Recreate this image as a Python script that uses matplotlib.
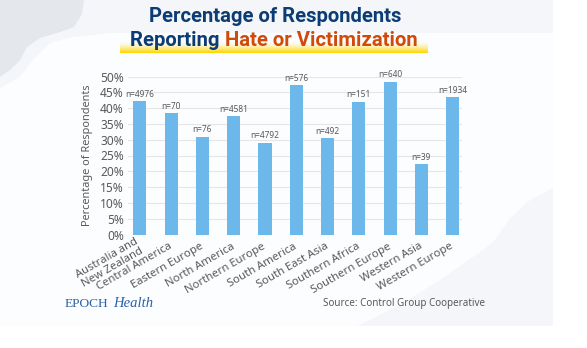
#!/usr/bin/python
# -*- coding: utf-8 -*-
##########################################################################################
# percentage of respondents reporting hate or victimization, by region
##########################################################################################

import numpy as np
import matplotlib as mpl
from matplotlib import pyplot as plt
from matplotlib.patches import Rectangle, Polygon

##########################################################################################
# data

regions = ['Australia and\nNew Zealand', 'Central America', 'Eastern Europe',
           'North America', 'Northern Europe', 'South America', 'South East Asia',
           'Southern Africa', 'Southern Europe', 'Western Asia', 'Western Europe']

percent = [42.1, 38.4, 30.9, 37.4, 29.0, 47.2, 30.4, 42.0, 48.3, 22.3, 43.4]

nLabels = ['n=4976', 'n=70', 'n=76', 'n=4581', 'n=4792', 'n=576', 'n=492',
           'n=151', 'n=640', 'n=39', 'n=1934']

yTicks = [0, 5, 10, 15, 20, 25, 30, 35, 40, 45, 50]

##########################################################################################
# colors

pColors = {'bar': '#6cb8ea',
           'navy': '#0c3c74',
           'orange': '#d04a0c',
           'text': '#595959',
           'grid': '#e6e6e6',
           'card': '#f4f6f9',
           'blob': '#e4e7eb',
           'epoch': '#2a62a8'}

W, H = 587, 348

def px(x, y):
    # pixel coords (top left origin) -> figure fraction
    return x / W, 1.0 - y / H

def addShape(f, pts, color, z):
    f.patches.append(Polygon([px(a, b) for a, b in pts], closed = True,
                             transform = f.transFigure, facecolor = color,
                             edgecolor = 'none', zorder = z))

def Plot(outname = 'out.png'):

    mpl.rc('font', **{'family': ['Noto Sans', 'DejaVu Sans']})

    f = plt.figure(figsize = (W / 100.0, H / 100.0), dpi = 100)
    f.patch.set_facecolor('white')

    ######################################################################################
    # background card and decorative shapes (drawn below the axes)
    x0, y0 = px(0, 326)
    f.patches.append(Rectangle((x0, y0), 553 / W, 326 / H, transform = f.transFigure,
                               facecolor = pColors['card'], edgecolor = 'none',
                               zorder = -3))
    # white inner area
    addShape(f, [(0, 88), (20, 77), (33, 60), (50, 43), (73, 37), (110, 33), (553, 33),
                 (553, 188), (530, 200), (510, 218), (495, 240), (483, 250),
                 (440, 280), (400, 305), (357, 326), (0, 326)], '#fcfdfe', -2)
    # grey blob top left
    addShape(f, [(0, 0), (84, 0), (82, 14), (74, 27), (60, 32), (40, 38), (27, 47),
                 (20, 60), (10, 70), (0, 77)], pColors['blob'], -1)

    ######################################################################################
    # axes
    l, b = px(128, 234.5)
    r, t = px(462, 76.5)
    ax1 = f.add_axes([l, b, r - l, t - b])
    ax1.set_facecolor('none')

    for spine in ax1.spines.values():
        spine.set_visible(False)

    xPos = np.arange(len(regions))
    ax1.bar(xPos, percent, width = 0.42, color = pColors['bar'], zorder = 3)

    for i in range(len(regions)):
        ax1.annotate(nLabels[i], xy = (xPos[i], percent[i]), xytext = (0, 1.8),
                     textcoords = 'offset points', ha = 'center', va = 'bottom',
                     fontsize = 6.0, color = pColors['text'], zorder = 4)

    ax1.set_xlim(-0.38, 10.3)
    ax1.set_ylim(0, 50)
    ax1.set_yticks(yTicks)
    ax1.set_yticklabels(['%d%%' % v for v in yTicks])
    ax1.yaxis.grid(True, color = pColors['grid'], linewidth = 0.8, zorder = 0)
    ax1.set_axisbelow(True)

    ax1.set_xticks(xPos)
    ax1.set_xticklabels(regions, rotation = 30, ha = 'right', va = 'center',
                        rotation_mode = 'anchor', linespacing = 0.9)

    ax1.tick_params('both', length = 0, labelcolor = pColors['text'])
    ax1.tick_params(axis = 'y', pad = 3.0, labelsize = 8.6)
    ax1.tick_params(axis = 'x', pad = 8.0, labelsize = 8.1)

    ax1.set_ylabel('Percentage of Respondents', fontsize = 7.9,
                   color = pColors['text'], labelpad = 5.0)

    ######################################################################################
    # title with yellow highlight
    hl, hb = px(120, 53)
    hr, ht = px(428, 41)
    axH = f.add_axes([hl, hb, hr - hl, ht - hb])
    axH.axis('off')
    grad = np.zeros((20, 2, 4))
    grad[:, :, 0] = 1.0
    grad[:, :, 1] = 0.84
    grad[:, :, 2] = 0.0
    grad[:, :, 3] = np.linspace(0.0, 1.0, 20)[:, None] ** 1.5
    axH.imshow(grad, aspect = 'auto', origin = 'upper', extent = (0, 1, 0, 1))

    titleKw = dict(fontsize = 14.6, fontweight = 'bold', family = ['Roboto', 'DejaVu Sans'],
                   zorder = 5)
    f.text(*px(275, 17), 'Percentage of Respondents', ha = 'center', va = 'center',
           color = pColors['navy'], **titleKw)

    t1 = f.text(0, 0, 'Reporting ', color = pColors['navy'], **titleKw)
    t2 = f.text(0, 0, 'Hate or Victimization', color = pColors['orange'], **titleKw)
    renderer = f.canvas.get_renderer()
    w1 = t1.get_window_extent(renderer).width
    w2 = t2.get_window_extent(renderer).width
    xs = 274 - (w1 + w2) / 2.0
    t1.set_position(px(xs, 46))
    t2.set_position(px(xs + w1, 46))

    ######################################################################################
    # footer
    f.text(*px(65, 307), 'EPOCH', fontsize = 9.6, color = pColors['epoch'],
           family = ['Liberation Serif', 'DejaVu Serif'])
    f.text(*px(113, 307), 'Health', fontsize = 10.5, color = pColors['epoch'],
           style = 'italic', family = ['Liberation Serif', 'DejaVu Serif'])

    f.text(*px(323, 306), 'Source: Control Group Cooperative', fontsize = 7.1,
           color = pColors['text'])

    ######################################################################################
    # save to file
    f.savefig(outname, dpi = 100, facecolor = f.get_facecolor())
    plt.close()
    return outname

if __name__ == '__main__':

    Plot('out.png')
